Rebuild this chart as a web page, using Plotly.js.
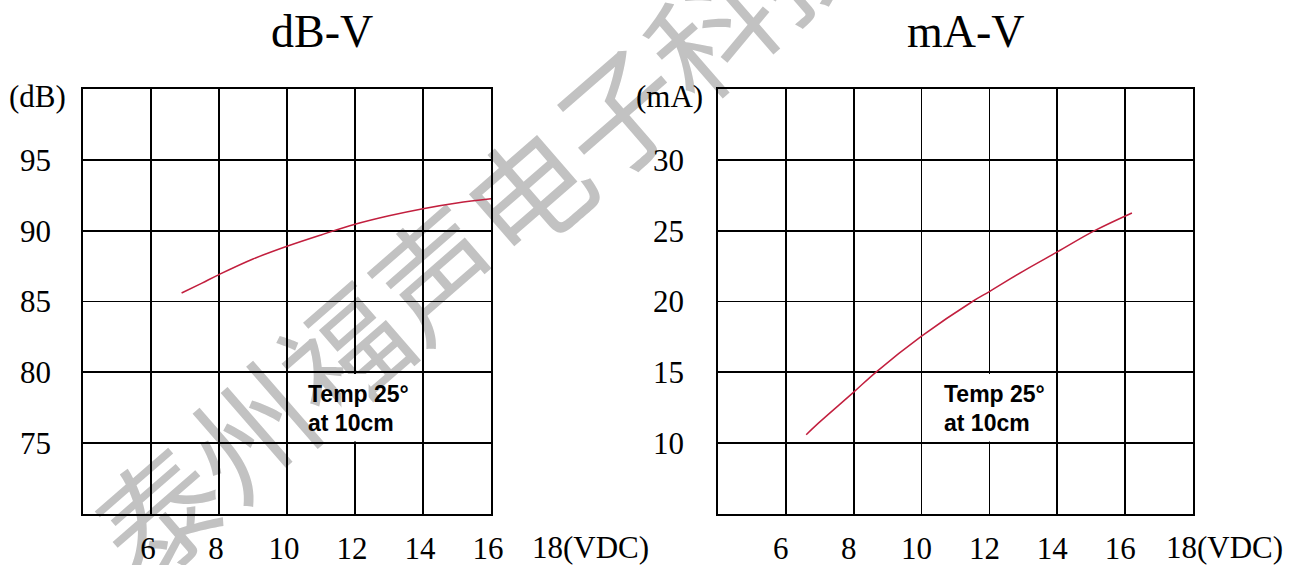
<!DOCTYPE html>
<html>
<head>
<meta charset="utf-8">
<script src="https://cdn.plot.ly/plotly-3.0.1.min.js"></script>
<style>
  html, body { margin: 0; padding: 0; background: #fff; }
  #chart { width: 1295px; height: 565px; }
</style>
</head>
<body>
<div id="chart"></div>
<script>
// ---- data ----
const voltsDb = [6.9, 7.5, 8, 9, 10, 11, 12, 13, 14, 15, 16.2];
const dbValues = [85.6, 86.3, 86.9, 88.0, 88.9, 89.7, 90.45, 91.05, 91.55, 91.95, 92.3];

const voltsMa = [6.6, 7, 8, 8.65, 10, 11.5, 12, 13, 14, 15.1, 16.2];
const maValues = [10.6, 11.5, 13.6, 15.0, 17.55, 20.0, 20.7, 22.15, 23.5, 25.0, 26.25];

const xTicksLeft = [6, 8, 10, 12, 14, 16];
const xTicksRight = [6, 8, 10, 12, 14, 16];
const yTicksDb = [75, 80, 85, 90, 95];
const yTicksMa = [10, 15, 20, 25, 30];

const titleLeft = 'dB-V';
const titleRight = 'mA-V';
const unitDb = '(dB)';
const unitMa = '(mA)';
const unitV = '18(VDC)';
const noteLine1 = 'Temp 25°';
const noteLine2 = 'at 10cm';
const watermark = '泰州福声电子科技';

// ---- styling ----
const serif = 'Liberation Serif, Times New Roman, serif';
const sans = 'Liberation Sans, Arial, sans-serif';
const lineColor = '#c21f3e';
const W = 1295, H = 565, mL = 0, mR = 0, mT = 89, mB = 51;
const px = v => v / W;
const py = v => (H - mB - v) / (H - mT - mB);

function axisBase(extra) {
  return Object.assign({
    showgrid: true, gridcolor: '#000', gridwidth: 1.7,
    showline: true, mirror: true, linecolor: '#000', linewidth: 1.7,
    zeroline: false, ticks: '', fixedrange: true,
    tickfont: { family: serif, size: 31, color: '#000' },
    tickmode: 'array'
  }, extra);
}

const traces = [
  { x: voltsDb, y: dbValues, xaxis: 'x', yaxis: 'y', type: 'scatter', mode: 'lines',
    line: { color: lineColor, width: 1.5, shape: 'spline' }, hoverinfo: 'skip' },
  { x: voltsMa, y: maValues, xaxis: 'x2', yaxis: 'y2', type: 'scatter', mode: 'lines',
    line: { color: lineColor, width: 1.5, shape: 'spline' }, hoverinfo: 'skip' }
];

function note(text, xref, yref, x, y) {
  return { text: text, xref: xref, yref: yref, x: x, y: y,
    xanchor: 'left', yanchor: 'top', align: 'left', showarrow: false,
    font: { family: sans, size: 23, color: '#000', weight: 'bold' } };
}

const layout = {
  width: W, height: H,
  margin: { l: mL, r: mR, t: mT, b: mB },
  paper_bgcolor: '#fff', plot_bgcolor: 'rgba(0,0,0,0)',
  showlegend: false,
  xaxis: axisBase({ domain: [px(83), px(491)], range: [4, 16], tickvals: xTicksLeft,
    ticklabelstandoff: 6, ticklabelshift: -3, anchor: 'y' }),
  yaxis: axisBase({ domain: [0, 1], range: [70, 100], tickvals: yTicksDb,
    ticklabelstandoff: 24, anchor: 'x' }),
  xaxis2: axisBase({ domain: [px(718), px(1193)], range: [4, 18], tickvals: xTicksRight,
    ticklabelstandoff: 6, ticklabelshift: -5, anchor: 'y2' }),
  yaxis2: axisBase({ domain: [0, 1], range: [5, 35], tickvals: yTicksMa,
    ticklabelstandoff: 26, anchor: 'x2' }),
  shapes: [
    // watermark drawn beneath the grid
    { type: 'rect', xref: 'paper', yref: 'paper', layer: 'below',
      x0: px(291), x1: px(691), y0: py(343), y1: py(143),
      fillcolor: 'rgba(0,0,0,0)', line: { width: 0 },
      label: { text: watermark, textangle: -41, textposition: 'middle center',
        font: { family: 'Noto Sans CJK SC', size: 122, color: '#c2c2c2' } } },
    { type: 'rect', xref: 'x', yref: 'y', x0: 11.6, x1: 12.4, y0: 75.12, y1: 79.88,
      fillcolor: '#fff', line: { width: 0 }, layer: 'above' },
    { type: 'rect', xref: 'x2', yref: 'y2', x0: 11.6, x1: 12.4, y0: 10.12, y1: 14.88,
      fillcolor: '#fff', line: { width: 0 }, layer: 'above' }
  ],
  annotations: [
    { text: titleLeft, xref: 'paper', yref: 'paper', x: px(322), y: py(31),
      xanchor: 'center', yanchor: 'middle', showarrow: false,
      font: { family: serif, size: 46, color: '#000' } },
    { text: titleRight, xref: 'paper', yref: 'paper', x: px(966), y: py(31),
      xanchor: 'center', yanchor: 'middle', showarrow: false,
      font: { family: serif, size: 46, color: '#000' } },
    { text: unitDb, xref: 'paper', yref: 'paper', x: px(68), y: py(97),
      xanchor: 'right', yanchor: 'middle', showarrow: false,
      font: { family: serif, size: 31, color: '#000' } },
    { text: unitMa, xref: 'paper', yref: 'paper', x: px(705), y: py(97),
      xanchor: 'right', yanchor: 'middle', showarrow: false,
      font: { family: serif, size: 31, color: '#000' } },
    { text: unitV, xref: 'paper', yref: 'paper', x: px(530), y: py(547),
      xanchor: 'left', yanchor: 'middle', showarrow: false,
      font: { family: serif, size: 31, color: '#000' } },
    { text: unitV, xref: 'paper', yref: 'paper', x: px(1164), y: py(547),
      xanchor: 'left', yanchor: 'middle', showarrow: false,
      font: { family: serif, size: 31, color: '#000' } },
    note(noteLine1, 'x', 'y', 10.55, 79.5),
    note(noteLine2, 'x', 'y', 10.55, 77.5),
    note(noteLine1, 'x2', 'y2', 10.6, 14.5),
    note(noteLine2, 'x2', 'y2', 10.6, 12.5)
  ]
};

Plotly.newPlot('chart', traces, layout, { staticPlot: true, displayModeBar: false });
</script>
</body>
</html>
